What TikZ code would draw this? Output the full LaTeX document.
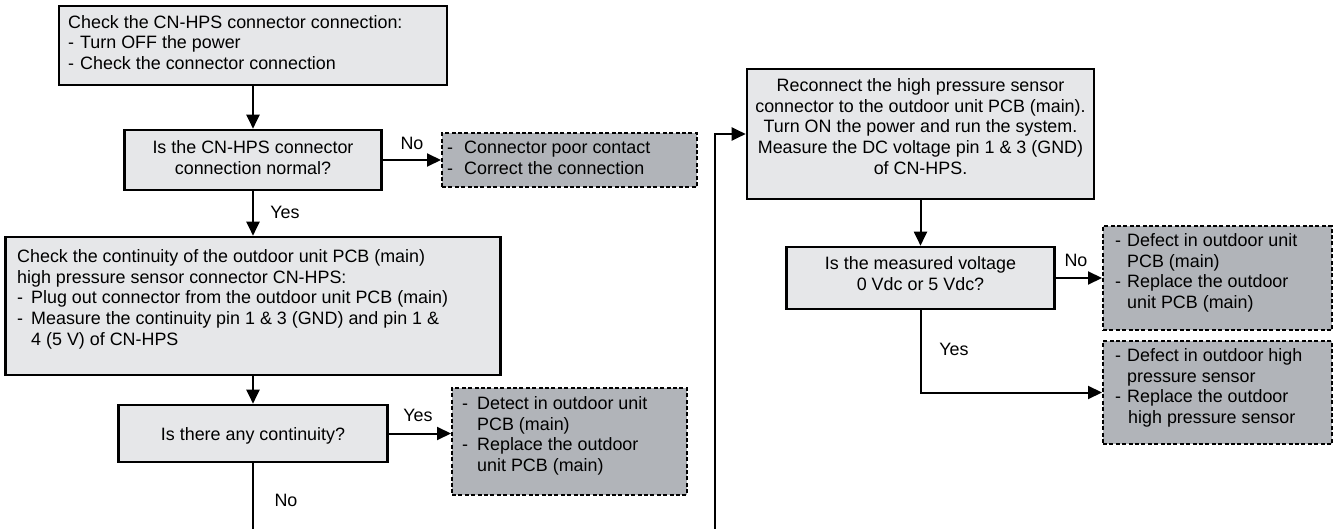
\documentclass[tikz,border=0pt]{standalone}
\usepackage{fontspec}
\setmainfont{Liberation Sans}
\usetikzlibrary{arrows.meta,calc}
\definecolor{boxfill}{HTML}{E6E7E9}
\definecolor{dashfill}{HTML}{B1B4B9}
\newcommand\hang[1]{\makebox[#1][l]{-}}
\newcommand\ind[1]{\hspace*{#1}}
\begin{document}
\begin{tikzpicture}[x=1pt,y=-1pt,
  every node/.style={font=\fontsize{17.9}{20.6}\selectfont},
  box/.style={draw, line width=2.6pt, fill=boxfill, inner sep=0pt},
  dbox/.style={draw, line width=2pt, dash pattern=on 4pt off 2.4pt, fill=dashfill, inner sep=0pt},
  txt/.style={inner sep=0pt},
  lbl/.style={inner sep=0pt, anchor=base},
  arr/.style={line width=2pt, -{Triangle[length=14pt,width=13pt]}},
  ln/.style={line width=2pt}]
\useasboundingbox (0,0) rectangle (1336,529);
% boxes
\node[box, minimum width=388pt, minimum height=79pt] (b1) at (253,45.5) {};
\node[box, minimum width=257pt, minimum height=60pt] (b2) at (253,160) {};
\node[dbox, minimum width=255pt, minimum height=54pt] (d1) at (569.5,160) {};
\node[box, minimum width=495pt, minimum height=138pt] (b3) at (253,306) {};
\node[box, minimum width=269pt, minimum height=57pt] (b4) at (253,433.5) {};
\node[dbox, minimum width=235pt, minimum height=107pt] (d2) at (569.5,441.5) {};
\node[box, minimum width=347pt, minimum height=130pt] (b5) at (920.5,134) {};
\node[box, minimum width=268pt, minimum height=62pt] (b6) at (920.5,278) {};
\node[dbox, minimum width=229pt, minimum height=104pt] (d3) at (1217.5,278) {};
\node[dbox, minimum width=229pt, minimum height=103pt] (d4) at (1217.5,392.5) {};
% texts
\node[txt, anchor=north west] (t1) at (68,13.5) {\begin{tabular}{@{}l@{}}Check the CN-HPS connector connection:\\
\hang{12pt}Turn OFF the power\\
\hang{12pt}Check the connector connection\end{tabular}};
\node[txt, anchor=north] (t2) at (253,139) {\begin{tabular}{@{}c@{}}Is the CN-HPS connector\\connection normal?\end{tabular}};
\node[txt, anchor=north west] (td1) at (447,139) {\begin{tabular}{@{}l@{}}\hang{17pt}Connector poor contact\\
\hang{17pt}Correct the connection\end{tabular}};
\node[txt, anchor=north west] (t3) at (17,248) {\begin{tabular}{@{}l@{}}Check the continuity of the outdoor unit PCB (main)\\
high pressure sensor connector CN-HPS:\\
\hang{14pt}Plug out connector from the outdoor unit PCB (main)\\
\hang{14pt}Measure the continuity pin 1 \& 3 (GND) and pin 1 \&\\
\ind{14pt}4 (5 V) of CN-HPS\end{tabular}};
\node[txt, anchor=north] (t4) at (253,425.5) {\begin{tabular}{@{}c@{}}Is there any continuity?\end{tabular}};
\node[txt, anchor=north west] (td2) at (462,395) {\begin{tabular}{@{}l@{}}\hang{15pt}Detect in outdoor unit\\
\ind{15pt}PCB (main)\\
\hang{15pt}Replace the outdoor\\
\ind{15pt}unit PCB (main)\end{tabular}};
\node[txt, anchor=north] (t5) at (920.5,77) {\begin{tabular}{@{}c@{}}Reconnect the high pressure sensor\\
connector to the outdoor unit PCB (main).\\
Turn ON the power and run the system.\\
Measure the DC voltage pin 1 \& 3 (GND)\\
of CN-HPS.\end{tabular}};
\node[txt, anchor=north] (t6) at (920.5,255) {\begin{tabular}{@{}c@{}}Is the measured voltage\\0 Vdc or 5 Vdc?\end{tabular}};
\node[txt, anchor=north west] (td3) at (1115,232) {\begin{tabular}{@{}l@{}}\hang{12pt}Defect in outdoor unit\\
\ind{12pt}PCB (main)\\
\hang{12pt}Replace the outdoor\\
\ind{12pt}unit PCB (main)\end{tabular}};
\node[txt, anchor=north west] (td4) at (1115,347) {\begin{tabular}{@{}l@{}}\hang{12pt}Defect in outdoor high\\
\ind{12pt}pressure sensor\\
\hang{12pt}Replace the outdoor\\
\ind{13pt}high pressure sensor\end{tabular}};
% free ends
\coordinate (e1) at (253,529);
\coordinate (e2) at (715,529);
% connectors
\draw[arr] (b1.south) -- (b2.north);
\draw[arr] (b2.east) -- (d1.west);
\draw[arr] (b2.south) -- (b3.north);
\draw[arr] (b3.south) -- (b4.north);
\draw[arr] (b4.east) -- (b4.east -| d2.west);
\draw[ln] (b4.south) -- (e1);
\draw[arr] (e2) |- (b5.west);
\draw[arr] (b5.south) -- (b6.north);
\draw[arr] (b6.east) -- (d3.west);
\draw[arr] (b6.south) |- (d4.west);
% labels
\node[lbl] (l1) at (412,149.4) {No};
\node[lbl] (l2) at (285,218.4) {Yes};
\node[lbl] (l3) at (418,421.4) {Yes};
\node[lbl] (l4) at (286,506.4) {No};
\node[lbl] (l5) at (1076,266.4) {No};
\node[lbl] (l6) at (954,355.4) {Yes};
\end{tikzpicture}
\end{document}
